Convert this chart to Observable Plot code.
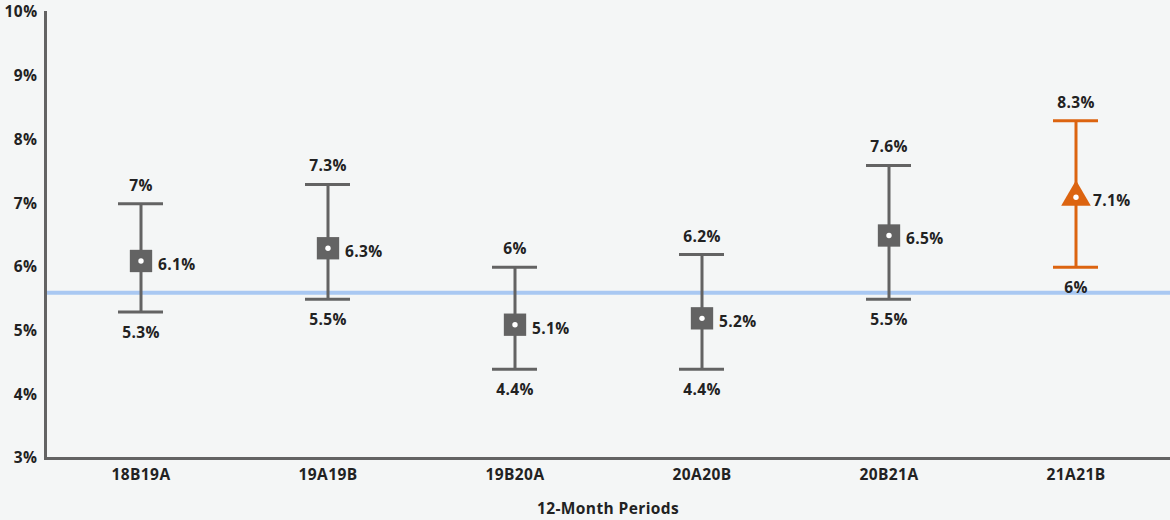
<!DOCTYPE html>
<html>
<head>
<meta charset="utf-8">
<script src="https://cdn.jsdelivr.net/npm/d3@7"></script>
<script src="https://cdn.jsdelivr.net/npm/@observablehq/plot@0.6"></script>
<style>
  html, body { margin: 0; padding: 0; background: #f4f6f6; }
  #chart svg { display: block; background: #f4f6f6; }
  #chart svg text { letter-spacing: 0.4px; }
</style>
</head>
<body>
<div id="chart"></div>
<script>
const periods = ["18B19A", "19A19B", "19B20A", "20A20B", "20B21A", "21A21B"];
const estimates = [6.1, 6.3, 5.1, 5.2, 6.5, 7.1];
const lowerBounds = [5.3, 5.5, 4.4, 4.4, 5.5, 6.0];
const upperBounds = [7.0, 7.3, 6.0, 6.2, 7.6, 8.3];
const highlighted = [false, false, false, false, false, true];
const referenceLine = [5.6];
const yTicks = [3, 4, 5, 6, 7, 8, 9, 10];

const data = periods.map((p, i) => ({
  period: p, mid: estimates[i], low: lowerBounds[i], high: upperBounds[i], hi: highlighted[i]
}));

const gray = "#636363";
const orange = "#dc6410";
const colorOf = d => d.hi ? orange : gray;
const fmt = v => `${v}%`;
const font = "'Open Sans', sans-serif";
const fs = 15.5;

const plot = Plot.plot({
  width: 1170,
  height: 520,
  marginTop: 12,
  marginLeft: 45,
  marginRight: 0,
  marginBottom: 62,
  style: { background: "#f4f6f6", fontFamily: font, color: "#222" },
  x: { domain: periods, padding: 0 },
  y: { domain: [3, 10] },
  marks: [
    Plot.ruleY(referenceLine, { stroke: "#a9c8f2", strokeWidth: 4 }),
    Plot.ruleX(data, { x: "period", y1: "low", y2: "high", stroke: colorOf, strokeWidth: 3 }),
    Plot.tickY(data, { x: "period", y: "high", stroke: colorOf, strokeWidth: 3, insetLeft: 71, insetRight: 71 }),
    Plot.tickY(data, { x: "period", y: "low", stroke: colorOf, strokeWidth: 3, insetLeft: 71, insetRight: 71 }),
    Plot.dot(data.filter(d => !d.hi), { x: "period", y: "mid", symbol: "square", r: 12.6, fill: gray, stroke: "none" }),
    Plot.dot(data.filter(d => d.hi), { x: "period", y: "mid", symbol: "triangle", r: 11, fill: orange, stroke: "none", dy: 0 }),
    Plot.dot(data, { x: "period", y: "mid", r: 2.7, fill: "white", stroke: "none" }),
    Plot.text(data, { x: "period", y: "high", text: d => fmt(d.high), dy: -18, fontSize: fs, fontWeight: 700, fill: "#222" }),
    Plot.text(data, { x: "period", y: "low", text: d => fmt(d.low), dy: 21, fontSize: fs, fontWeight: 700, fill: "#222" }),
    Plot.text(data, { x: "period", y: "mid", text: d => fmt(d.mid), dx: 17, dy: 4, textAnchor: "start", fontSize: fs, fontWeight: 700, fill: "#222" }),
    Plot.axisY({ ticks: yTicks, tickFormat: fmt, tickSize: 0, tickPadding: 8, label: null, fontSize: fs, fontWeight: 700 }),
    Plot.axisX({ tickSize: 0, tickPadding: 10, label: "12-Month Periods", labelAnchor: "center", labelOffset: 55, fontSize: fs, fontWeight: 700 }),
    Plot.frame({ anchor: "left", stroke: gray, strokeWidth: 3 }),
    Plot.frame({ anchor: "bottom", stroke: gray, strokeWidth: 3 })
  ]
});
document.getElementById("chart").appendChild(plot);
</script>
</body>
</html>
